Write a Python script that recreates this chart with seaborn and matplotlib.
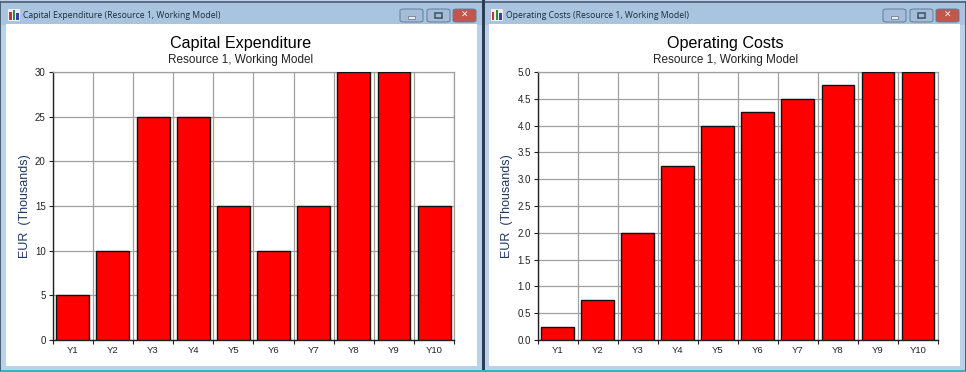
import numpy as np
import pandas as pd
import seaborn as sns
import matplotlib.pyplot as plt
from matplotlib.patches import Rectangle, FancyBboxPatch

# data
years = ['Y1', 'Y2', 'Y3', 'Y4', 'Y5', 'Y6', 'Y7', 'Y8', 'Y9', 'Y10']
capex = [5, 10, 25, 25, 15, 10, 15, 30, 30, 15]
opex = [0.25, 0.75, 2.0, 3.25, 4.0, 4.25, 4.5, 4.75, 5.0, 5.0]
capex_ticks = [0, 5, 10, 15, 20, 25, 30]
opex_ticks = [0.0, 0.5, 1.0, 1.5, 2.0, 2.5, 3.0, 3.5, 4.0, 4.5, 5.0]

W, H = 966, 372

sns.set_theme(style='white')
plt.rcParams['font.family'] = ['Liberation Sans', 'DejaVu Sans']

fig = plt.figure(figsize=(W / 100, H / 100), dpi=100, facecolor='#b9d1ea')


def box(x, y, w, h, color, z=0, edge='none', lw=0):
    # rectangle in picture pixels, y from the top
    fig.add_artist(Rectangle((x / W, 1 - (y + h) / H), w / W, h / H, transform=fig.transFigure,
                             facecolor=color, edgecolor=edge, linewidth=lw, zorder=z))


def button(x, w, color):
    y = 9
    h = 13
    fig.add_artist(FancyBboxPatch((x / W, 1 - (y + h) / H), w / W, h / H, transform=fig.transFigure,
                                  boxstyle='round,pad=0,rounding_size=0.004', facecolor=color,
                                  edgecolor='#5f7d9c', linewidth=0.7, zorder=3))


def window(x0, x1, caption):
    # frame, caption strip and white client area
    box(x0, 1, x1 - x0, 370, '#b9d1ea')
    box(x0, 1, x1 - x0, 24, '#a9c4de')
    box(x0, 1, x1 - x0, 1.5, '#5c6f80', 1)
    box(x0 + 6, 24, x1 - x0 - 12, 342, 'white', 1)
    # icon
    box(x0 + 8, 9, 12, 12, '#eeeeee', 2)
    box(x0 + 9, 12, 2.5, 8, '#c8342c', 3)
    box(x0 + 12.5, 10, 2.5, 10, '#2f8a3c', 3)
    box(x0 + 16, 13, 2.5, 7, '#3240b8', 3)
    fig.text((x0 + 23) / W, 1 - 16 / H, caption, fontsize=6.2, va='center', color='#1c2c3c',
             family=['Open Sans', 'DejaVu Sans'], zorder=4)
    # caption buttons
    button(x1 - 83, 23, '#a5bdd6')
    box(x1 - 75, 16, 7, 2.5, '#e8eef5', 4, '#46586a', 0.4)
    button(x1 - 56, 23, '#a5bdd6')
    box(x1 - 48, 12.5, 7, 5.5, 'none', 4, '#46586a', 1.2)
    button(x1 - 30, 23, '#c2564a')
    fig.text((x1 - 18.5) / W, 1 - 15.5 / H, '✕', ha='center', va='center', fontsize=6.5,
             color='#f4f4f4', fontweight='bold', family=['DejaVu Sans'], zorder=4)


def chart(x0, width, title, values, ticks, fmt):
    ax = fig.add_axes([x0 / W, 1 - 340 / H, width / W, 268 / H], zorder=5)
    ax.set_facecolor('white')
    df = pd.DataFrame({'Year': years, 'Value': values})
    sns.barplot(data=df, x='Year', y='Value', color='#ff0000', saturation=1, width=0.82,
                edgecolor='#111111', linewidth=1.0, ax=ax, zorder=3)
    ax.set_xlim(-0.5, 9.5)
    ax.set_ylim(ticks[0], ticks[-1])
    ax.set_yticks(ticks)
    ax.set_yticklabels([fmt % t for t in ticks], fontsize=7, color='#222222')
    ax.set_xticks(range(len(years)))
    ax.set_xticklabels(years, fontsize=6.8, color='#222222')
    ax.set_xticks(np.arange(-0.5, 10), minor=True)
    ax.grid(True, axis='y', color='#a0a0a0', linewidth=0.9, zorder=0)
    ax.grid(True, axis='x', which='minor', color='#a0a0a0', linewidth=0.9, zorder=0)
    ax.grid(False, axis='x', which='major')
    ax.set_axisbelow(True)
    ax.tick_params(axis='x', which='major', length=0, pad=4)
    ax.tick_params(axis='x', which='minor', length=3, width=0.8, color='#222222', bottom=True)
    ax.tick_params(axis='y', length=3, width=0.8, color='#222222', left=True, pad=2)
    for side in ['left', 'bottom']:
        ax.spines[side].set_color('#222222')
        ax.spines[side].set_linewidth(1.0)
    for side in ['top', 'right']:
        ax.spines[side].set_color('#a0a0a0')
        ax.spines[side].set_linewidth(0.9)
    ax.set_xlabel('')
    ax.set_ylabel('EUR  (Thousands)', fontsize=9, color='#1f3864', labelpad=3)
    cx = (x0 + 187.5) / W
    fig.text(cx, 1 - 43.5 / H, title, ha='center', va='center', fontsize=11.6, color='black', zorder=6)
    fig.text(cx, 1 - 59.5 / H, 'Resource 1, Working Model', ha='center', va='center', fontsize=8.5,
             color='#222222', zorder=6)


window(0, 483, 'Capital Expenditure (Resource 1, Working Model)')
window(483, 966, 'Operating Costs (Resource 1, Working Model)')
box(482, 0, 2.5, H, '#2c3e50', 2)
box(0, 370, W, 2, '#2fb4c8', 2)
box(0, 1, 1, 370, '#4f6070', 2)
box(965, 1, 1, 370, '#4f6070', 2)

chart(52.7, 401.5, 'Capital Expenditure', capex, capex_ticks, '%d')
chart(537.7, 400.3, 'Operating Costs', opex, opex_ticks, '%.1f')

fig.savefig('out.png', dpi=100, facecolor=fig.get_facecolor())
